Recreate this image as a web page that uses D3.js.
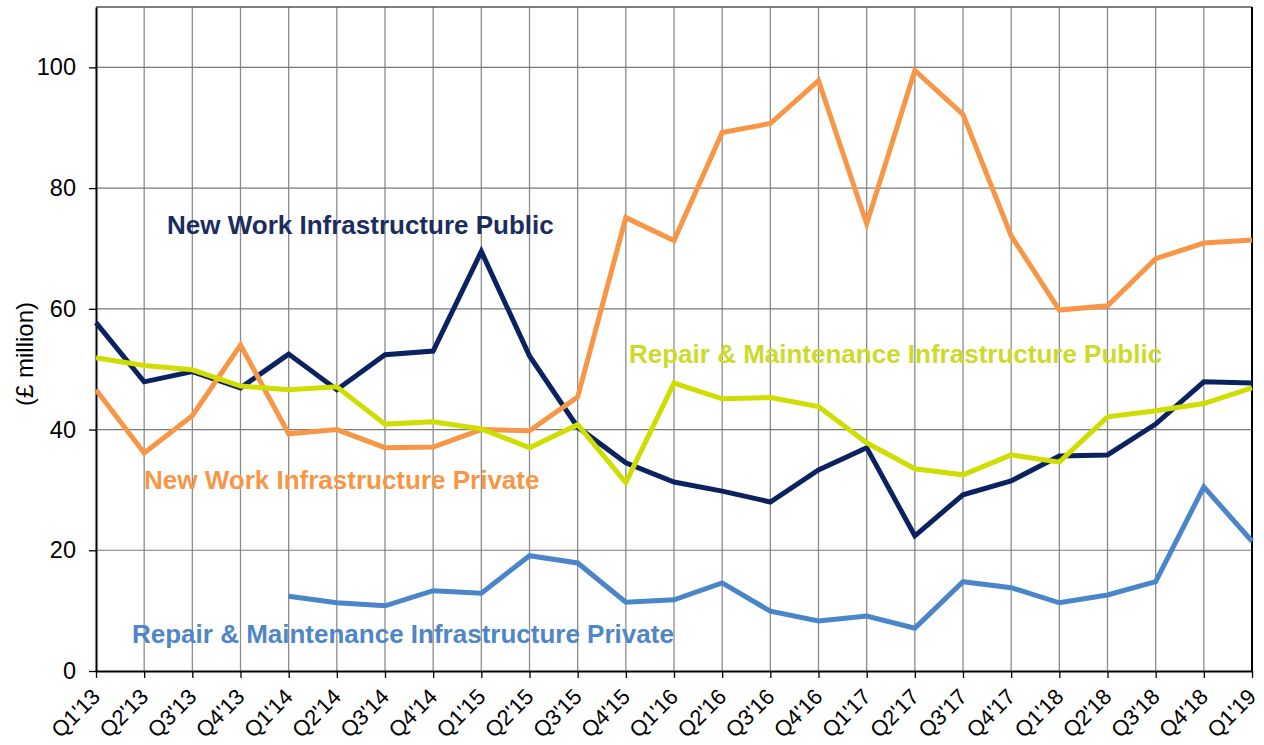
<!DOCTYPE html>
<html>
<head>
<meta charset="utf-8">
<script src="https://cdn.jsdelivr.net/npm/d3@7"></script>
<style>
  body { margin: 0; background: #fff; }
  svg { font-family: Arial, "Liberation Sans", sans-serif; }
</style>
</head>
<body>
<div id="chart"></div>
<script>
// quarters on the x axis
const quarters = ["Q1'13","Q2'13","Q3'13","Q4'13","Q1'14","Q2'14","Q3'14","Q4'14",
  "Q1'15","Q2'15","Q3'15","Q4'15","Q1'16","Q2'16","Q3'16","Q4'16",
  "Q1'17","Q2'17","Q3'17","Q4'17","Q1'18","Q2'18","Q3'18","Q4'18","Q1'19"];

// £ million
const newWorkPublic = [57.7,47.9,49.6,46.9,52.5,46.6,52.4,53.0,69.5,52.2,40.4,34.5,31.3,
  29.8,28.0,33.3,37.0,22.4,29.2,31.5,35.6,35.8,40.9,47.9,47.7];
const newWorkPrivate = [46.6,36.1,42.3,54.0,39.3,40.0,37.0,37.1,40.0,39.8,45.4,75.1,71.3,
  89.2,90.7,97.8,74.1,99.5,92.2,72.1,59.8,60.5,68.3,70.9,71.4];
const rmPublic = [51.9,50.6,49.9,47.2,46.6,47.1,40.9,41.3,40.1,37.0,40.8,31.2,47.7,
  45.1,45.3,43.8,37.8,33.5,32.5,35.8,34.6,42.1,43.1,44.3,46.9];
// no data before Q1'14
const rmPrivate = [null,null,null,null,12.4,11.3,10.8,13.3,12.9,19.1,17.9,11.4,11.8,
  14.6,9.9,8.3,9.1,7.1,14.8,13.8,11.3,12.6,14.8,30.5,21.5];

const yTicks = [0,20,40,60,80,100];

const series = [
  {name: "New Work Infrastructure Public", values: newWorkPublic, color: "#0a2360", labelColor: "#1c2c60", lx: 167, ly: 225},
  {name: "New Work Infrastructure Private", values: newWorkPrivate, color: "#f79646", labelColor: "#f79646", lx: 144, ly: 480},
  {name: "Repair & Maintenance Infrastructure Public", values: rmPublic, color: "#cfdd00", labelColor: "#ccdb2a", lx: 629, ly: 354},
  {name: "Repair & Maintenance Infrastructure Private", values: rmPrivate, color: "#4a84c9", labelColor: "#4f86c6", lx: 132, ly: 634}
];

const W = 1264, H = 745;
const margin = {top: 7, right: 12, bottom: 74, left: 96};
const width = W - margin.left - margin.right, height = H - margin.top - margin.bottom;

const svg = d3.select("#chart").append("svg")
  .attr("width", W).attr("height", H);

const g = svg.append("g")
  .attr("transform", `translate(${margin.left},${margin.top})`);

const x = d3.scalePoint().domain(quarters).range([0, width]);
const y = d3.scaleLinear().domain([0, 110]).range([height, 0]);

// grid
g.append("g").selectAll("line").data(quarters.slice(1, -1)).join("line")
  .attr("x1", d => x(d)).attr("x2", d => x(d))
  .attr("y1", 0).attr("y2", height)
  .attr("stroke", "#8c8c8c").attr("stroke-width", 1.3);
g.append("g").selectAll("line").data(yTicks.slice(1)).join("line")
  .attr("x1", 0).attr("x2", width)
  .attr("y1", d => y(d)).attr("y2", d => y(d))
  .attr("stroke", "#7a7a7a").attr("stroke-width", 1.2);

// frame: top grey, right black
g.append("line").attr("x1", 0).attr("x2", width).attr("y1", 0).attr("y2", 0)
  .attr("stroke", "#555").attr("stroke-width", 1.5);
g.append("line").attr("x1", width).attr("x2", width).attr("y1", 0).attr("y2", height)
  .attr("stroke", "#000").attr("stroke-width", 2);

// axes
const xAxis = g.append("g")
  .attr("transform", `translate(0,${height})`)
  .call(d3.axisBottom(x).tickSizeInner(7).tickSizeOuter(0));
xAxis.select(".domain").attr("stroke", "#000").attr("stroke-width", 2);
xAxis.selectAll(".tick line").attr("stroke", "#000").attr("stroke-width", 1.3);
xAxis.selectAll(".tick text")
  .attr("font-size", 22).attr("fill", "#000")
  .attr("text-anchor", "end")
  .attr("dy", null)
  .attr("x", 0).attr("y", 0)
  .attr("transform", "translate(5,27) rotate(-45)");

const yAxis = g.append("g")
  .call(d3.axisLeft(y).tickValues(yTicks).tickSizeInner(7).tickSizeOuter(0).tickPadding(13));
yAxis.select(".domain").attr("stroke", "#000").attr("stroke-width", 2);
yAxis.selectAll(".tick line").attr("stroke", "#000").attr("stroke-width", 1.3);
yAxis.selectAll(".tick text").attr("font-size", 23.5).attr("fill", "#000");

svg.append("text")
  .attr("transform", `translate(24,354) rotate(-90)`)
  .attr("text-anchor", "middle")
  .attr("dominant-baseline", "central")
  .attr("font-size", 24)
  .text("(£ million)");

// lines
const line = d3.line()
  .defined(d => d != null)
  .x((d, i) => x(quarters[i]))
  .y(d => y(d));

g.selectAll(".series").data(series).join("path")
  .attr("class", "series")
  .attr("fill", "none")
  .attr("stroke", d => d.color)
  .attr("stroke-width", 5)
  .attr("stroke-linejoin", "miter")
  .attr("d", d => line(d.values));

// labels
svg.selectAll(".lbl").data(series).join("text")
  .attr("class", "lbl")
  .attr("x", d => d.lx).attr("y", d => d.ly)
  .attr("dy", "0.35em")
  .attr("font-size", 26).attr("font-weight", "bold")
  .attr("fill", d => d.labelColor)
  .text(d => d.name);
</script>
</body>
</html>
